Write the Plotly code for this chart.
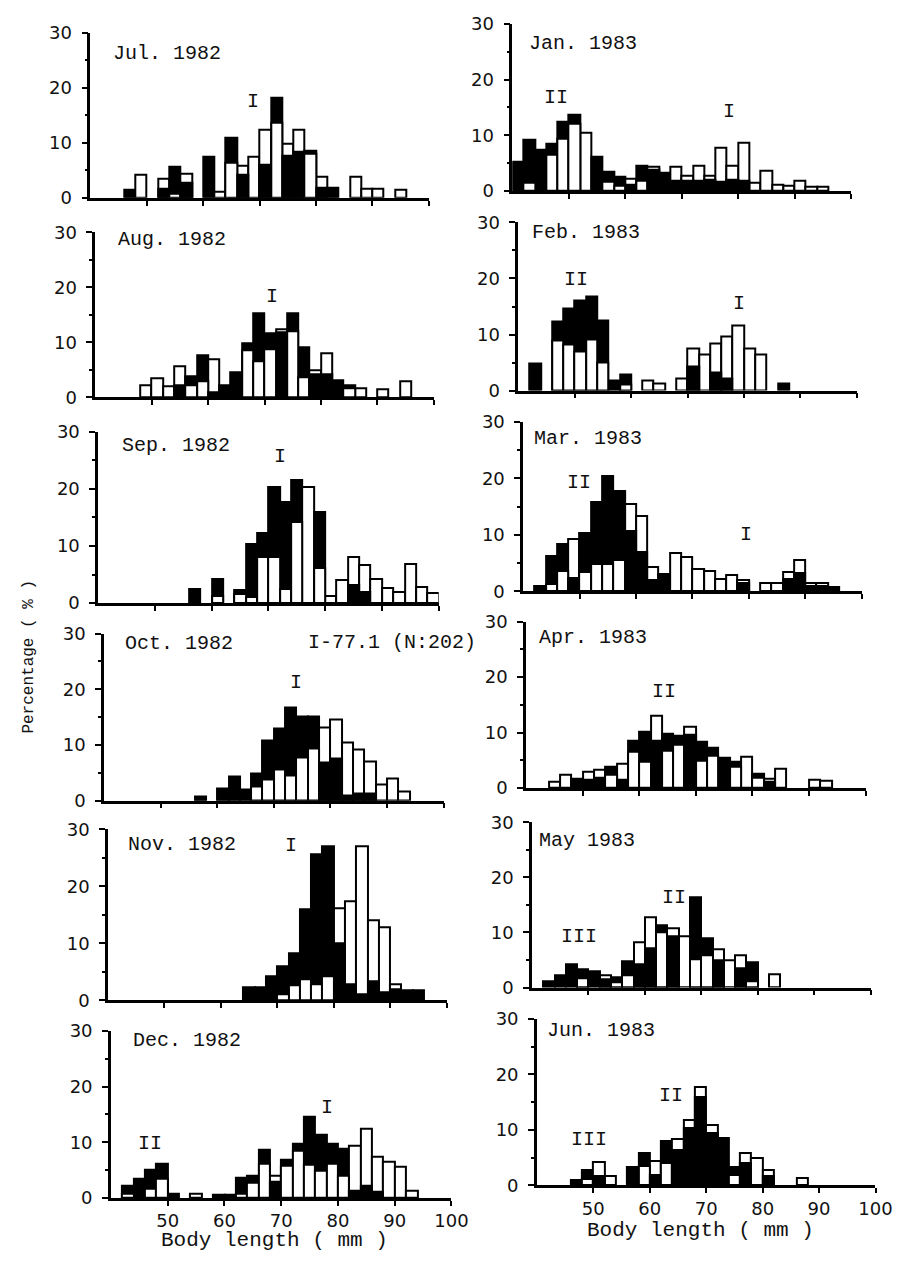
import plotly.graph_objects as go

# ---------------- data (percentage per 2-mm body-length class) ----------------
bin_left = list(range(40, 100, 2))          # 40, 42, ..., 98
x_ticks = [50, 60, 70, 80, 90, 100]
y_ticks = [0, 10, 20, 30]

jul_black = [0, 0, 0, 1.5, 0, 0, 1.7, 5.6, 2.8, 0, 7.4, 0, 10.9, 4.3, 0, 6.0, 18.2, 7.6, 8.4, 8.6, 1.8, 1.8, 0, 0, 0, 0, 0, 0, 0, 0]
jul_white = [0, 0, 0, 0, 4.2, 0, 3.4, 0.8, 4.4, 0, 0, 1.2, 6.4, 5.9, 7.4, 12.4, 13.7, 9.8, 12.3, 8.0, 3.8, 0, 0, 3.9, 1.6, 1.6, 0, 1.5, 0, 0]

aug_black = [0, 0, 0, 0, 0, 0, 0, 2.2, 3.8, 7.6, 1.0, 2.2, 4.6, 9.8, 15.3, 11.6, 11.8, 15.3, 9.2, 4.3, 4.2, 3.2, 2.2, 0, 0, 0, 0, 0, 0, 0]
aug_white = [0, 0, 0, 0, 2.2, 3.4, 2.1, 5.6, 2.2, 3.0, 7.0, 0, 0, 8.5, 6.5, 8.8, 12.3, 12.0, 3.6, 5.0, 8.0, 0, 1.7, 1.6, 0, 1.5, 0, 2.9, 0, 0]

sep_black = [0, 0, 0, 0, 0, 0, 0, 0, 2.4, 0, 4.2, 0, 2.3, 10.3, 12.3, 20.4, 17.8, 21.5, 0, 15.9, 0, 0, 3.1, 2.0, 0, 0, 0, 0, 0, 0]
sep_white = [0, 0, 0, 0, 0, 0, 0, 0, 0, 0, 1.3, 0, 1.6, 1.1, 8.0, 8.0, 2.5, 14.3, 20.3, 6.1, 1.3, 4.0, 8.0, 6.7, 4.2, 2.7, 1.9, 6.9, 2.8, 1.8]

oct_black = [0, 0, 0, 0, 0, 0, 0, 0, 0.7, 0, 2.2, 4.3, 2.0, 4.8, 10.8, 12.9, 16.8, 15.1, 15.1, 6.9, 7.5, 1.0, 1.3, 1.3, 0, 0, 0, 0, 0, 0]
oct_white = [0, 0, 0, 0, 0, 0, 0, 0, 0, 0, 0, 0, 0, 2.5, 3.8, 5.6, 4.5, 7.8, 9.4, 13.2, 14.6, 10.5, 9.2, 7.0, 2.9, 4.0, 1.6, 0, 0, 0]

nov_black = [0, 0, 0, 0, 0, 0, 0, 0, 0, 0, 0, 0, 2.3, 2.3, 4.2, 6.0, 8.3, 16.0, 25.6, 27.0, 10.0, 2.8, 1.0, 3.3, 1.5, 2.0, 1.8, 1.7, 0, 0]
nov_white = [0, 0, 0, 0, 0, 0, 0, 0, 0, 0, 0, 0, 0, 0, 0, 1.1, 2.6, 3.7, 2.9, 4.2, 16.2, 17.4, 27.0, 14.0, 12.8, 2.9, 0, 0, 0, 0]

dec_black = [0, 2.2, 3.5, 5.1, 6.2, 0.8, 0, 0, 0, 0.5, 0.5, 3.6, 3.9, 8.6, 2.9, 6.9, 9.8, 14.6, 11.3, 9.8, 8.9, 1.3, 2.1, 1.2, 0, 0, 0, 0, 0, 0]
dec_white = [0, 0.8, 0, 1.6, 3.5, 0, 0, 0.8, 0, 0, 0, 0.7, 2.7, 6.1, 4.0, 5.7, 8.5, 5.9, 4.8, 6.1, 4.0, 9.4, 12.5, 7.4, 6.5, 5.6, 1.3, 0, 0, 0]

jan_black = [5.2, 9.2, 7.4, 8.5, 12.4, 13.6, 0, 6.2, 3.5, 2.6, 1.2, 4.6, 3.8, 3.2, 1.8, 1.8, 1.8, 2.0, 1.7, 2.0, 1.9, 0, 0, 0, 0, 0, 0, 0, 0, 0]
jan_white = [0, 1.5, 0, 6.5, 9.4, 12.0, 10.4, 0, 1.6, 1.0, 2.1, 1.9, 4.4, 0, 4.4, 2.8, 4.5, 2.7, 7.8, 4.6, 8.6, 1.5, 3.7, 1.1, 0.9, 1.9, 0.8, 0.8, 0, 0]

feb_black = [0, 4.9, 0, 12.3, 14.7, 16.0, 16.8, 12.5, 1.8, 2.9, 0, 0, 0, 0, 0, 4.4, 0, 3.2, 2.2, 0, 0, 0, 0, 1.3, 0, 0, 0, 0, 0, 0]
feb_white = [0, 0, 0, 9.0, 8.2, 6.9, 9.1, 5.0, 0, 1.1, 0, 1.9, 1.2, 0, 2.1, 7.6, 6.4, 8.5, 9.7, 11.6, 7.6, 6.5, 0, 0, 0, 0, 0, 0, 0, 0]

mar_black = [0, 1.0, 6.2, 8.4, 2.4, 10.4, 15.8, 20.4, 17.8, 10.7, 7.0, 2.0, 3.1, 0, 0, 0, 0, 0, 0, 1.5, 0, 0, 0, 2.2, 3.3, 1.0, 1.0, 0.8, 0, 0]
mar_white = [0, 0, 1.3, 3.6, 9.2, 3.4, 4.8, 4.9, 5.6, 15.5, 13.4, 4.2, 0, 6.8, 6.1, 4.0, 3.5, 2.2, 2.8, 2.0, 0, 1.5, 1.5, 3.4, 5.5, 1.4, 1.4, 0, 0, 0]

apr_black = [0, 0, 0, 0, 1.6, 1.5, 1.9, 3.8, 1.5, 8.5, 10.2, 8.5, 9.8, 9.5, 9.6, 8.4, 7.2, 5.5, 4.7, 0, 2.5, 1.2, 0, 0, 0, 0, 0, 0, 0, 0]
apr_white = [0, 0, 1.2, 2.3, 0, 2.9, 3.3, 2.4, 4.4, 6.5, 4.7, 13.1, 6.7, 7.8, 11.1, 5.0, 5.8, 0, 3.8, 5.6, 1.9, 1.6, 3.4, 0, 0, 1.4, 1.3, 0, 0, 0]

may_black = [0, 1.2, 2.3, 4.2, 3.3, 2.9, 1.5, 1.9, 4.8, 4.2, 7.1, 11.3, 9.3, 0, 16.3, 9.0, 5.0, 0, 3.4, 4.5, 0, 0, 0, 0, 0, 0, 0, 0, 0, 0]
may_white = [0, 0, 0, 0, 1.6, 0, 2.3, 0.9, 2.3, 8.3, 12.8, 10.0, 10.7, 9.3, 5.1, 5.8, 7.0, 5.0, 5.8, 1.2, 0, 2.4, 0, 0, 0, 0, 0, 0, 0, 0]

jun_black = [0, 0, 0, 1.0, 2.7, 1.6, 0, 0, 3.3, 5.9, 1.8, 7.9, 6.3, 10.3, 16.0, 9.5, 8.5, 3.2, 4.0, 0, 1.6, 0, 0, 0, 0, 0, 0, 0, 0, 0]
jun_white = [0, 0, 0, 0, 1.2, 4.2, 1.6, 0, 0, 3.5, 4.4, 4.0, 8.3, 11.7, 17.8, 10.8, 0, 1.8, 5.9, 5.0, 2.8, 0, 0, 1.3, 0, 0, 0, 0, 0, 0]

month_titles = ["Jul. 1982", "Aug. 1982", "Sep. 1982", "Oct. 1982", "Nov. 1982", "Dec. 1982",
                "Jan. 1983", "Feb. 1983", "Mar. 1983", "Apr. 1983", "May 1983", "Jun. 1983"]
black_series = [jul_black, aug_black, sep_black, oct_black, nov_black, dec_black,
                jan_black, feb_black, mar_black, apr_black, may_black, jun_black]
white_series = [jul_white, aug_white, sep_white, oct_white, nov_white, dec_white,
                jan_white, feb_white, mar_white, apr_white, may_white, jun_white]

# cohort labels: (panel index, label, body length, percentage)
cohort_labels = [
    (0, "I", 68.8, 17.5), (1, "I", 71.3, 18.4), (2, "I", 72.0, 25.7),
    (3, "I", 73.9, 21.2), (4, "I", 72.5, 27.2), (5, "II", 46.9, 9.7), (5, "I", 78.0, 16.2),
    (6, "II", 47.8, 16.8), (6, "I", 78.4, 14.3), (7, "II", 50.3, 19.8), (7, "I", 79.1, 15.6),
    (8, "II", 49.9, 19.2), (8, "I", 79.5, 10.0), (9, "II", 64.4, 17.4),
    (10, "III", 48.3, 9.3), (10, "II", 65.2, 16.4), (11, "III", 49.2, 8.3), (11, "II", 63.7, 16.2),
]

# ---------------- layout geometry (pixels in the 919x1268 page) ----------------
W, H = 919, 1268
# x pixel of 40 mm, x pixel of 100 mm, y pixel of 0 %, y pixel of 30 %
panel_px = [
    (92, 437, 190, 22), (97, 442, 393, 225), (100, 447, 602, 428),
    (106, 452, 803, 633), (110, 455, 1006, 832), (113, 460, 1207, 1037),
    (522, 867, 183, 13), (528, 873, 386, 215), (533, 878, 590, 418),
    (536, 882, 790, 621), (542, 887, 993, 825), (547, 892, 1194, 1025),
]
# title left-x, centre-y pixels
title_px = [(113, 43), (118, 232), (122, 442), (125, 643), (128, 848), (133, 1047),
            (537, 33), (540, 225), (542, 435), (547, 637), (547, 843), (555, 1037)]

MONO = "Liberation Mono"
SANS = "DejaVu Sans"

fig = go.Figure()
annotations = []
layout_axes = {}

for i in range(12):
    n = i + 1
    xs = "x" if n == 1 else f"x{n}"
    ys = "y" if n == 1 else f"y{n}"
    b = black_series[i]
    w = white_series[i]
    centers = [e + 1 for e in bin_left]
    back = [max(bb, ww) if max(bb, ww) > 0 else None for bb, ww in zip(b, w)]
    back_col = ["black" if bb >= ww else "white" for bb, ww in zip(b, w)]
    front = [min(bb, ww) if min(bb, ww) > 0 else None for bb, ww in zip(b, w)]
    front_col = ["white" if bb >= ww else "black" for bb, ww in zip(b, w)]
    for vals, cols in ((back, back_col), (front, front_col)):
        fig.add_trace(go.Bar(
            x=centers, y=vals, width=2.0, xaxis=xs, yaxis=ys,
            marker=dict(color=cols, line=dict(color="black", width=2)),
            showlegend=False, hoverinfo="skip"))

    x40, x100, y0, y30 = panel_px[i]
    xd = [x40 / W, x100 / W]
    yd = [1 - y0 / H, 1 - y30 / H]
    bottom = i in (5, 11)
    layout_axes["xaxis" if n == 1 else f"xaxis{n}"] = dict(
        domain=xd, range=[40, 100], anchor=ys, showline=True, linecolor="black",
        linewidth=2.5, ticks="outside", tickvals=x_ticks, ticklen=5, tickwidth=2,
        tickcolor="black", showticklabels=bottom, showgrid=False, zeroline=False,
        tickfont=dict(family=SANS, size=18, color="#111"), fixedrange=True)
    layout_axes["yaxis" if n == 1 else f"yaxis{n}"] = dict(
        domain=yd, range=[0, 30], anchor=xs, showline=True, linecolor="black",
        linewidth=2.5, ticks="outside", tickvals=y_ticks, ticklen=6, tickwidth=2,
        tickcolor="black", showgrid=False, zeroline=False, ticklabelstandoff=6,
        minor=dict(tickvals=[5, 15, 25], ticks="outside", ticklen=3, tickwidth=1.5,
                   tickcolor="black", showgrid=False),
        tickfont=dict(family=SANS, size=18, color="#111"), fixedrange=True)

    tx, ty = title_px[i]
    annotations.append(dict(text=month_titles[i], x=tx / W, y=1 - ty / H, xref="paper",
                            yref="paper", xanchor="left", yanchor="middle", showarrow=False,
                            font=dict(family=MONO, size=20, color="#111")))

for (pi, lab, lx, ly) in cohort_labels:
    n = pi + 1
    annotations.append(dict(text=lab, x=lx, y=ly, xref="x" if n == 1 else f"x{n}",
                            yref="y" if n == 1 else f"y{n}", showarrow=False,
                            xanchor="center", yanchor="middle",
                            font=dict(family=MONO, size=20, color="#111")))

annotations += [
    dict(text="I-77.1 (N:202)", x=312 / W, y=1 - 642 / H, xref="paper", yref="paper",
         xanchor="left", yanchor="middle", showarrow=False,
         font=dict(family=MONO, size=20, color="#111")),
    dict(text="Percentage ( % )", x=30 / W, y=1 - 656 / H, xref="paper", yref="paper",
         xanchor="center", yanchor="middle", textangle=-90, showarrow=False,
         font=dict(family=MONO, size=16, color="#111")),
    dict(text="Body length ( mm )", x=280 / W, y=1 - 1250 / H, xref="paper", yref="paper",
         xanchor="center", yanchor="middle", showarrow=False,
         font=dict(family=MONO, size=21, color="#111")),
    dict(text="Body length ( mm )", x=714 / W, y=1 - 1240 / H, xref="paper", yref="paper",
         xanchor="center", yanchor="middle", showarrow=False,
         font=dict(family=MONO, size=21, color="#111")),
]

fig.update_layout(
    width=W, height=H, margin=dict(l=0, r=0, t=0, b=0),
    paper_bgcolor="white", plot_bgcolor="white",
    barmode="overlay", bargap=0, showlegend=False,
    annotations=annotations, **layout_axes)

fig.write_html("out.html")
